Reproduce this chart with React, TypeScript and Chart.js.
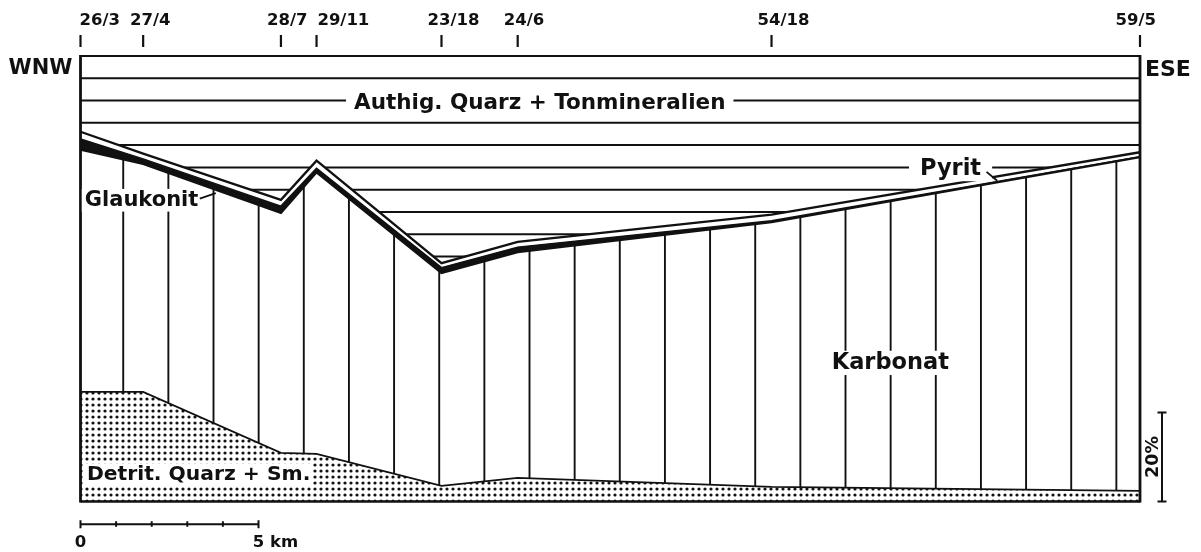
import React, { useEffect, useRef } from "react";
import { Chart, registerables } from "chart.js";

Chart.register(...registerables);

// Sample stations along the WNW–ESE profile (distance in km from 26/3)
const stations = ["26/3", "27/4", "28/7", "29/11", "23/18", "24/6", "54/18", "59/5"];
const stationKm = [0, 1.76, 5.63, 6.63, 10.14, 12.28, 19.41, 29.76];

// Composition in % (stacked from the bottom upward, sums to 100)
const detritQuarzSm = [24.6, 24.6, 10.9, 10.7, 3.5, 5.3, 3.3, 2.4];
const karbonat = [54.4, 51.2, 53.9, 63.2, 47.8, 50.7, 59.4, 74.9];
const glaukonit = [2.4, 1.1, 1.5, 0.9, 1.2, 1.1, 0.3, 0.1];
const pyrit = [1.6, 1.2, 1.4, 1.7, 1.0, 1.2, 1.4, 1.0];
const authigQuarzTon = [17.0, 21.9, 32.3, 23.5, 46.5, 41.7, 35.6, 21.6];

// Scale bars
const kmScaleTicks = [0, 1, 2, 3, 4, 5];
const pctScaleBar = [0, 20];

// Hatching
const horizHatchStepPct = 5;
const vertHatchStartKm = 1.2;
const vertHatchStepKm = 1.268;

const INK = "#111";
const FONT = '"DejaVu Sans", "Liberation Sans", sans-serif';

function pts(chart: any, i: number) {
  return chart.getDatasetMeta(i).data.map((p: any) => ({ x: p.x, y: p.y }));
}

function regionPath(ctx: CanvasRenderingContext2D, top: any[], bottom: any[] | null, a: any) {
  ctx.beginPath();
  top.forEach((p, j) => (j ? ctx.lineTo(p.x, p.y) : ctx.moveTo(p.x, p.y)));
  if (bottom) {
    for (let j = bottom.length - 1; j >= 0; j--) ctx.lineTo(bottom[j].x, bottom[j].y);
  } else {
    ctx.lineTo(a.right, a.top - 2);
    ctx.lineTo(a.left, a.top - 2);
  }
  ctx.closePath();
}

function text(
  ctx: CanvasRenderingContext2D,
  s: string,
  x: number,
  y: number,
  size: number,
  align: CanvasTextAlign = "left",
  clearPad: number | null = null
) {
  ctx.font = `bold ${size}px ${FONT}`;
  ctx.textAlign = align;
  ctx.textBaseline = "alphabetic";
  if (clearPad !== null) {
    const w = ctx.measureText(s).width;
    const x0 = align === "center" ? x - w / 2 : align === "right" ? x - w : x;
    ctx.fillStyle = "#fff";
    ctx.fillRect(x0 - clearPad, y - size * 0.82, w + clearPad * 2, size * 1.08);
  }
  ctx.fillStyle = INK;
  ctx.fillText(s, x, y);
}

const sectionPlugin = {
  id: "section",
  beforeDatasetsDraw(chart: any) {
    const { ctx, chartArea: a, scales } = chart;
    const x = scales.x;
    const y = scales.y;
    // Karbonat: vertical hatching
    ctx.save();
    regionPath(ctx, pts(chart, 1), pts(chart, 0), a);
    ctx.clip();
    ctx.strokeStyle = INK;
    ctx.lineWidth = 1.9;
    for (let km = vertHatchStartKm; km < x.max - 0.3; km += vertHatchStepKm) {
      const px = x.getPixelForValue(km);
      ctx.beginPath();
      ctx.moveTo(px, a.top);
      ctx.lineTo(px, a.bottom);
      ctx.stroke();
    }
    ctx.restore();
    // Authig. Quarz + Tonmineralien: horizontal hatching
    ctx.save();
    regionPath(ctx, pts(chart, 3), null, a);
    ctx.clip();
    ctx.strokeStyle = INK;
    ctx.lineWidth = 2;
    for (let v = 100; v > 0; v -= horizHatchStepPct) {
      const py = y.getPixelForValue(v);
      ctx.beginPath();
      ctx.moveTo(a.left, py);
      ctx.lineTo(a.right, py);
      ctx.stroke();
    }
    ctx.restore();
  },
  afterDatasetsDraw(chart: any) {
    const { ctx, chartArea: a, scales } = chart;
    const x = scales.x;
    const y = scales.y;
    ctx.save();
    // frame
    ctx.strokeStyle = INK;
    ctx.lineWidth = 2.8;
    ctx.beginPath();
    ctx.moveTo(a.left, a.top - 1);
    ctx.lineTo(a.left, a.bottom + 1);
    ctx.moveTo(a.right, a.top - 1);
    ctx.lineTo(a.right, a.bottom + 1);
    ctx.stroke();
    ctx.lineWidth = 2.6;
    ctx.beginPath();
    ctx.moveTo(a.left, a.bottom);
    ctx.lineTo(a.right, a.bottom);
    ctx.stroke();

    // labels inside the section
    text(ctx, "Authig. Quarz + Tonmineralien", x.getPixelForValue(12.9), y.getPixelForValue(88.1), 21.5, "center", 8);
    text(ctx, "Pyrit", x.getPixelForValue(23.58), y.getPixelForValue(73.2), 22.5, "left", 11);
    text(ctx, "Glaukonit", x.getPixelForValue(0.12), y.getPixelForValue(66.3), 21, "left", 3);
    text(ctx, "Karbonat", x.getPixelForValue(21.1), y.getPixelForValue(29.7), 22.5, "left", 6);
    text(ctx, "Detrit. Quarz + Sm.", x.getPixelForValue(0.18), y.getPixelForValue(4.8), 20.3, "left", 2);

    // leader lines
    ctx.strokeStyle = INK;
    ctx.lineWidth = 1.8;
    ctx.beginPath();
    ctx.moveTo(x.getPixelForValue(3.35), y.getPixelForValue(68.0));
    ctx.lineTo(x.getPixelForValue(3.8), y.getPixelForValue(69.2));
    ctx.moveTo(x.getPixelForValue(25.45), y.getPixelForValue(74.0));
    ctx.lineTo(x.getPixelForValue(25.75), y.getPixelForValue(72.0));
    ctx.stroke();
    ctx.restore();
  },
  afterDraw(chart: any) {
    const { ctx, chartArea: a, scales } = chart;
    const x = scales.x;
    const y = scales.y;
    ctx.save();
    ctx.strokeStyle = INK;
    ctx.fillStyle = INK;

    // station ticks and labels at top
    ctx.lineWidth = 2.2;
    let prevRight = -Infinity;
    stations.forEach((s, i) => {
      const px = x.getPixelForValue(stationKm[i]);
      ctx.beginPath();
      ctx.moveTo(px, a.top - 21);
      ctx.lineTo(px, a.top - 9);
      ctx.stroke();
      ctx.font = `bold 16.5px ${FONT}`;
      const w = ctx.measureText(s).width;
      let lx = px - 14;
      if (lx < a.left - 1) lx = a.left - 1;
      if (lx < prevRight + 10) lx = prevRight + 10;
      if (lx + w > a.right + 16) lx = a.right + 16 - w;
      text(ctx, s, lx, a.top - 31, 16.5, "left");
      prevRight = lx + w;
    });

    // direction labels
    text(ctx, "WNW", a.left - 8, a.top + 18, 21, "right");
    text(ctx, "ESE", a.right + 5, a.top + 20, 22, "left");

    // km scale bar
    const by = a.bottom + 22.8;
    const x0 = x.getPixelForValue(kmScaleTicks[0]);
    const x5 = x.getPixelForValue(kmScaleTicks[kmScaleTicks.length - 1]);
    ctx.lineWidth = 2;
    ctx.beginPath();
    ctx.moveTo(x0, by);
    ctx.lineTo(x5, by);
    kmScaleTicks.forEach((k, i) => {
      const px = x.getPixelForValue(k);
      const end = i === 0 || i === kmScaleTicks.length - 1;
      ctx.moveTo(px, by - (end ? 4 : 3));
      ctx.lineTo(px, by + (end ? 4 : 2.5));
    });
    ctx.stroke();
    text(ctx, String(kmScaleTicks[0]), x0, a.bottom + 45.5, 16.5, "center");
    ctx.font = `bold 16.5px ${FONT}`;
    const w5 = ctx.measureText("5").width;
    text(ctx, `${kmScaleTicks[kmScaleTicks.length - 1]} km`, x5 - w5 / 2, a.bottom + 45.5, 16.5, "left");

    // 20 % bar
    const bx = a.right + 22;
    const yTop = y.getPixelForValue(pctScaleBar[1]);
    const yBot = y.getPixelForValue(pctScaleBar[0]);
    ctx.lineWidth = 2;
    ctx.beginPath();
    ctx.moveTo(bx, yTop);
    ctx.lineTo(bx, yBot);
    ctx.moveTo(bx - 4.5, yTop);
    ctx.lineTo(bx + 4.5, yTop);
    ctx.moveTo(bx - 4.5, yBot);
    ctx.lineTo(bx + 4.5, yBot);
    ctx.stroke();
    ctx.save();
    ctx.translate(a.right + 17.5, (yTop + yBot) / 2);
    ctx.rotate(-Math.PI / 2);
    ctx.font = `bold 17.5px ${FONT}`;
    ctx.textAlign = "center";
    ctx.textBaseline = "alphabetic";
    ctx.fillStyle = INK;
    ctx.fillText(`${pctScaleBar[1]}%`, 0, 0);
    ctx.restore();
    ctx.restore();
  },
};

export default function App() {
  const ref = useRef<HTMLCanvasElement | null>(null);

  useEffect(() => {
    document.body.style.margin = "0";
    const canvas = ref.current;
    if (!canvas) return;
    const ctx = canvas.getContext("2d");
    if (!ctx) return;

    const pc = document.createElement("canvas");
    pc.width = 6;
    pc.height = 6;
    const pctx = pc.getContext("2d")!;
    pctx.fillStyle = "#fff";
    pctx.fillRect(0, 0, 6, 6);
    pctx.fillStyle = "#111";
    pctx.beginPath();
    pctx.arc(3, 3, 1.6, 0, Math.PI * 2);
    pctx.fill();
    const dots = ctx.createPattern(pc, "repeat");

    const toPts = (arr: number[]) => stationKm.map((k, i) => ({ x: k, y: arr[i] }));

    const chart = new Chart(ctx, {
      type: "line",
      data: {
        datasets: [
          {
            label: "Detrit. Quarz + Sm.",
            data: toPts(detritQuarzSm),
            fill: "origin",
            backgroundColor: dots as any,
            borderColor: INK,
            borderWidth: 1.8,
          },
          {
            label: "Karbonat",
            data: toPts(karbonat),
            fill: "-1",
            backgroundColor: "rgba(0,0,0,0)",
            borderColor: INK,
            borderWidth: 2.3,
          },
          {
            label: "Glaukonit",
            data: toPts(glaukonit),
            fill: "-1",
            backgroundColor: INK,
            borderColor: INK,
            borderWidth: 1.5,
          },
          {
            label: "Pyrit",
            data: toPts(pyrit),
            fill: "-1",
            backgroundColor: "#fff",
            borderColor: INK,
            borderWidth: 2.3,
          },
          {
            label: "Authig. Quarz + Tonmineralien",
            data: toPts(authigQuarzTon),
            fill: "-1",
            backgroundColor: "rgba(0,0,0,0)",
            borderColor: INK,
            borderWidth: 2.2,
          },
        ],
      },
      options: {
        responsive: false,
        animation: false,
        devicePixelRatio: 1,
        layout: { padding: { left: 80.5, right: 61, top: 56, bottom: 50.5 } },
        plugins: { legend: { display: false }, tooltip: { enabled: false } },
        elements: { line: { tension: 0 }, point: { radius: 0 } },
        scales: {
          x: { type: "linear", min: 0, max: stationKm[stationKm.length - 1], display: false },
          y: { stacked: true, min: 0, max: 100, display: false },
        },
      },
      plugins: [sectionPlugin],
    });

    return () => chart.destroy();
  }, []);

  return (
    <div style={{ width: 1201, height: 552, background: "#fff" }}>
      <canvas ref={ref} width={1201} height={552} style={{ display: "block" }} />
    </div>
  );
}
